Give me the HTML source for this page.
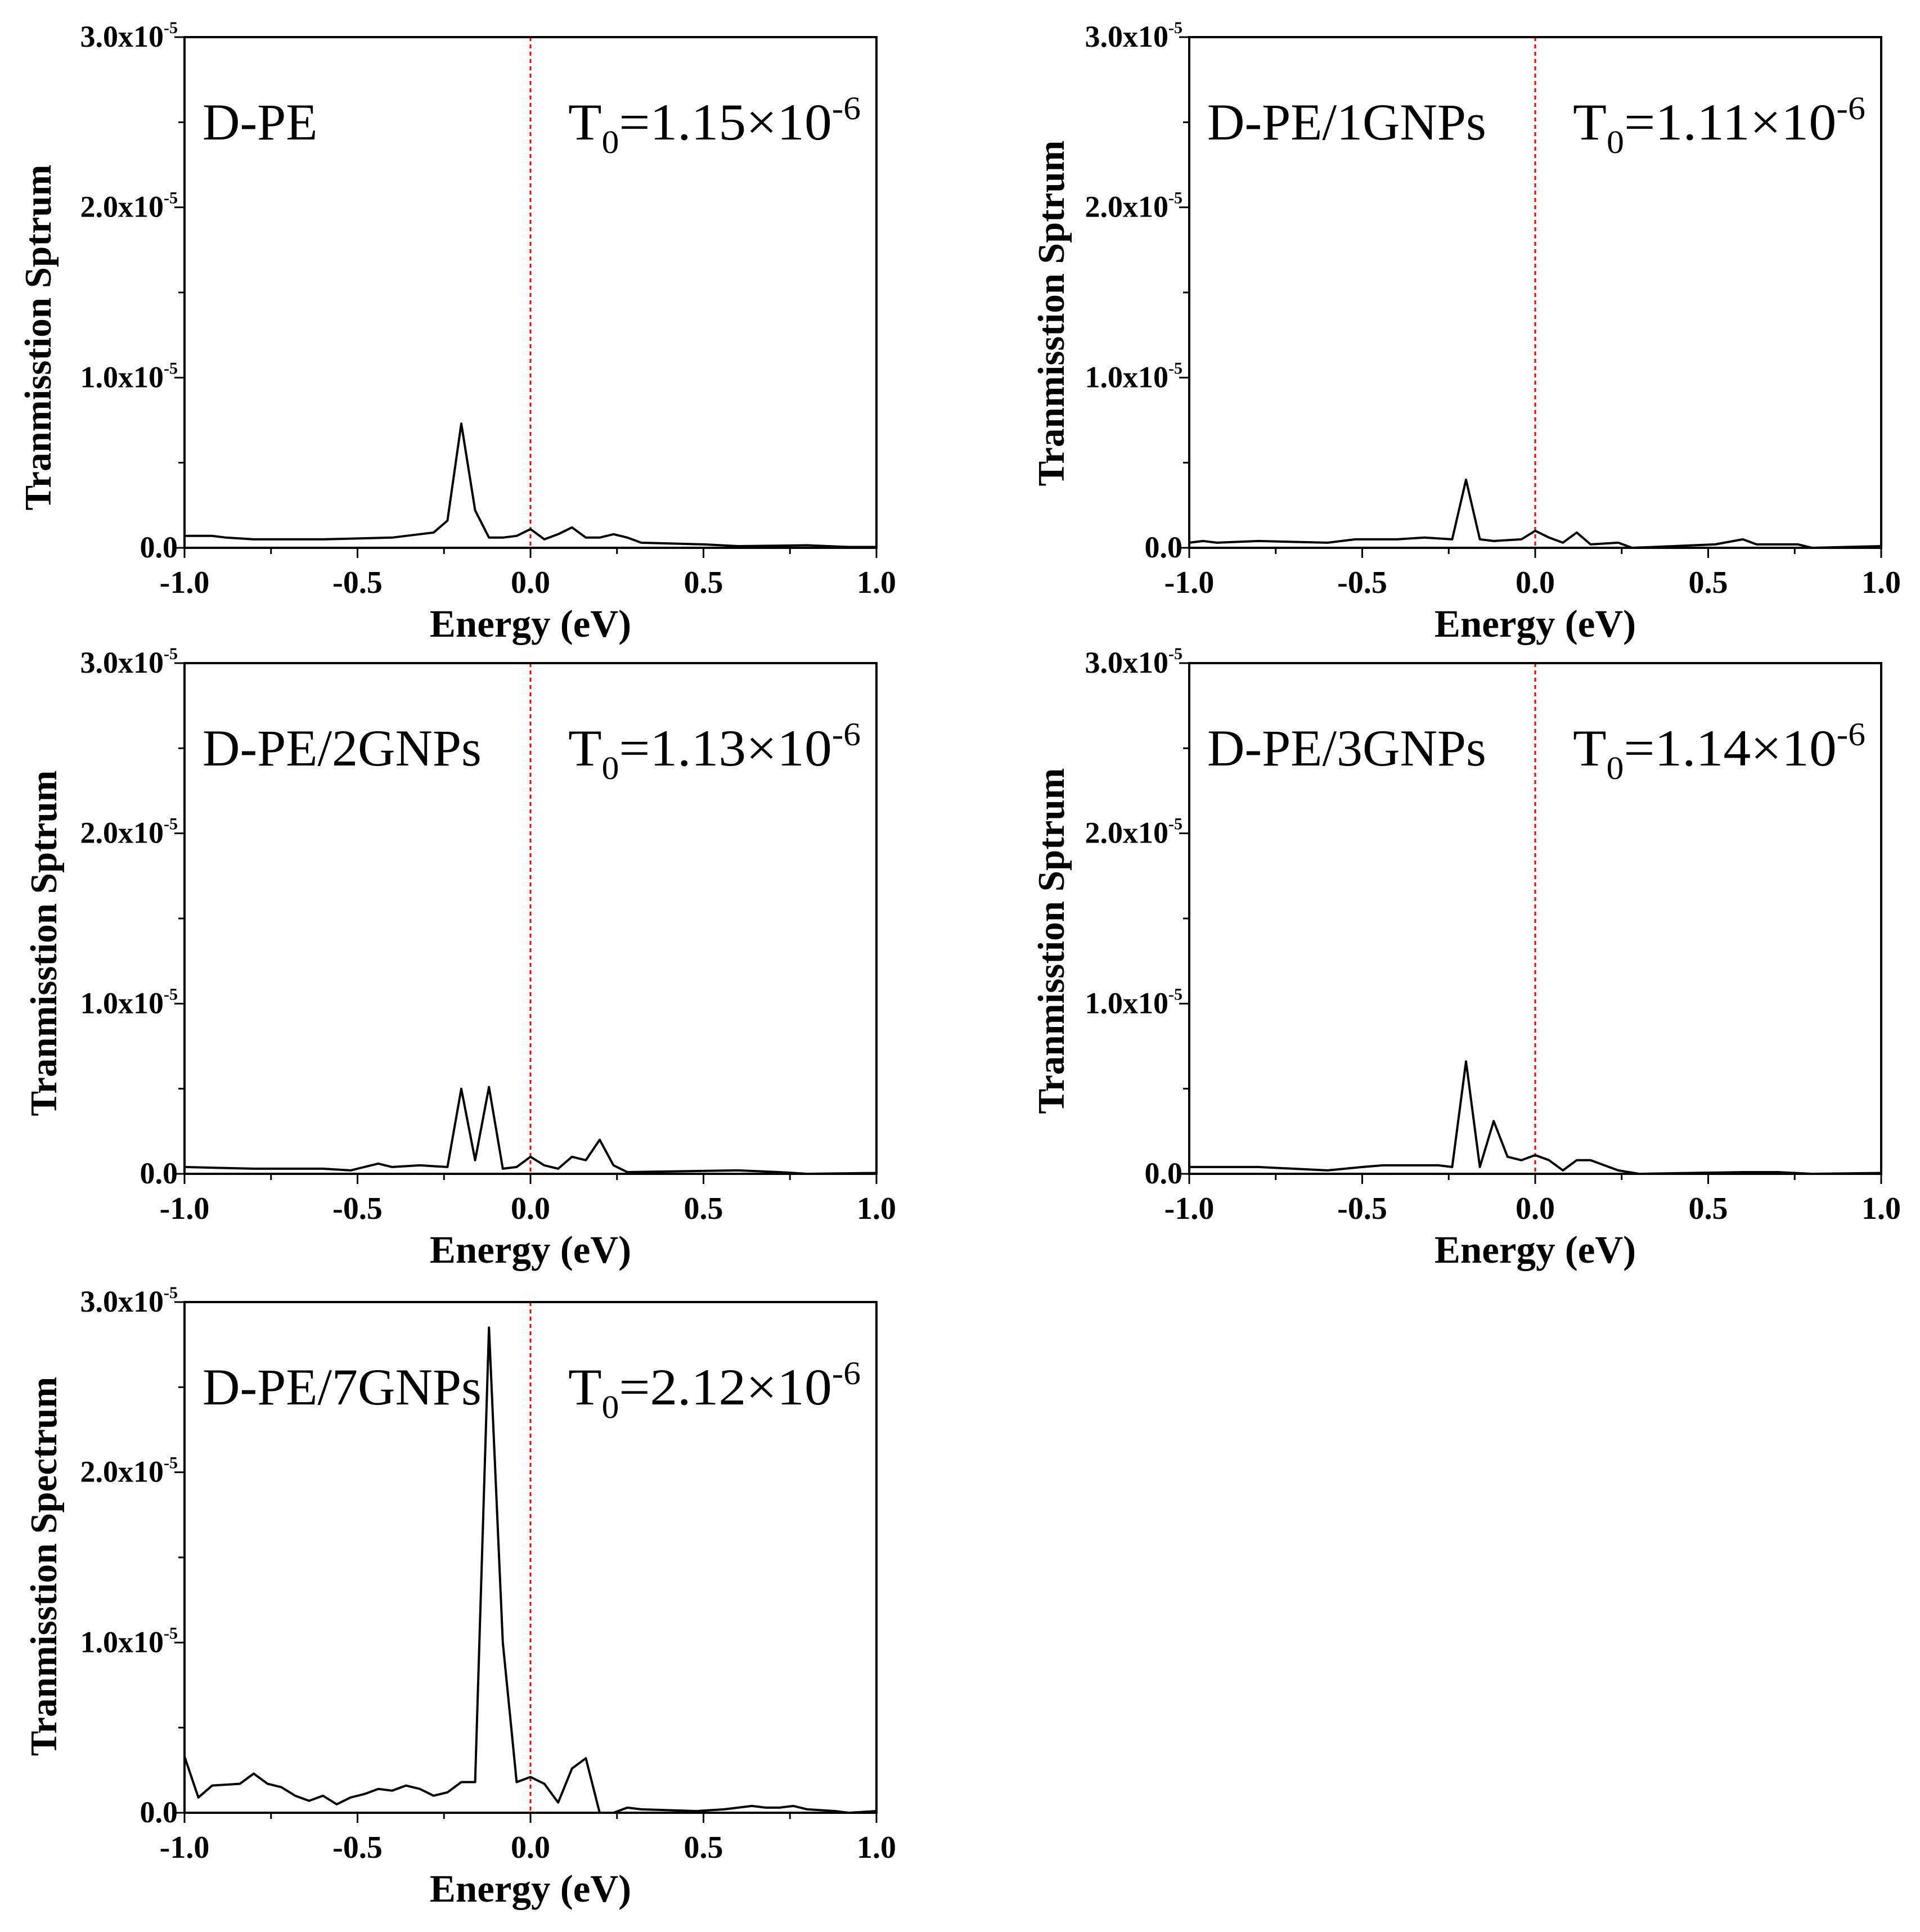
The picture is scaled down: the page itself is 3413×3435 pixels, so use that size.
<!DOCTYPE html>
<html><head><meta charset="utf-8"><style>
html,body{margin:0;padding:0;background:#fff}
svg{display:block}
text{font-family:"Liberation Serif",serif;fill:#000}
</style></head><body>
<svg id="fig" width="3413" height="3435" viewBox="0 0 3413 3435" xmlns="http://www.w3.org/2000/svg"></svg>
<script>
// energies and transmission values (units of 1e-6)
const xDPE=[-1,-0.92,-0.88,-0.8,-0.6,-0.4,-0.32,-0.28,-0.24,-0.2,-0.16,-0.12,-0.08,-0.04,0,0.04,0.08,0.12,0.16,0.2,0.24,0.28,0.32,0.5,0.6,0.8,0.92,1.0];
const yDPE=[0.7,0.7,0.6,0.5,0.5,0.6,0.8,0.9,1.6,7.3,2.2,0.6,0.6,0.7,1.1,0.5,0.8,1.2,0.6,0.6,0.8,0.6,0.3,0.2,0.1,0.15,0.05,0.05];
const x1G=[-1,-0.96,-0.92,-0.8,-0.6,-0.52,-0.4,-0.32,-0.24,-0.2,-0.16,-0.12,-0.04,0,0.04,0.08,0.12,0.16,0.24,0.28,0.4,0.52,0.6,0.64,0.76,0.8,1.0];
const y1G=[0.3,0.4,0.3,0.4,0.3,0.5,0.5,0.6,0.5,4.0,0.5,0.4,0.5,1.0,0.6,0.3,0.9,0.2,0.3,0,0.1,0.2,0.5,0.2,0.2,0,0.1];
const x2G=[-1,-0.8,-0.6,-0.52,-0.44,-0.4,-0.32,-0.24,-0.2,-0.16,-0.12,-0.08,-0.04,0,0.04,0.08,0.12,0.16,0.2,0.24,0.28,0.6,0.72,0.8,1.0];
const y2G=[0.4,0.3,0.3,0.2,0.6,0.4,0.5,0.4,5.0,0.8,5.1,0.3,0.4,1.0,0.5,0.3,1.0,0.8,2.0,0.5,0.1,0.2,0.1,0,0.05];
const x3G=[-1,-0.8,-0.6,-0.5,-0.44,-0.28,-0.24,-0.2,-0.16,-0.12,-0.08,-0.04,0,0.04,0.08,0.12,0.16,0.2,0.24,0.3,0.6,0.7,0.8,1.0];
const y3G=[0.4,0.4,0.2,0.4,0.5,0.5,0.4,6.6,0.4,3.1,1.0,0.8,1.1,0.8,0.2,0.8,0.8,0.5,0.2,0,0.1,0.1,0,0.05];
const x7G=[-1,-0.96,-0.92,-0.84,-0.8,-0.76,-0.72,-0.68,-0.64,-0.6,-0.56,-0.52,-0.48,-0.44,-0.4,-0.36,-0.32,-0.28,-0.24,-0.2,-0.16,-0.12,-0.08,-0.04,0,0.04,0.08,0.12,0.16,0.2,0.24,0.28,0.32,0.48,0.56,0.64,0.68,0.72,0.76,0.8,0.88,0.92,1.0];
const y7G=[3.3,0.9,1.6,1.7,2.3,1.7,1.5,1.0,0.7,1.0,0.5,0.9,1.1,1.4,1.3,1.6,1.4,1.0,1.2,1.8,1.8,28.5,10,1.8,2.1,1.7,0.6,2.6,3.2,0,0,0.3,0.2,0.1,0.2,0.4,0.3,0.3,0.4,0.2,0.1,0,0.1];
const xTicks=[-1.0,-0.5,0.0,0.5,1.0];
const xTickLabels=["-1.0","-0.5","0.0","0.5","1.0"];
const yTicks=[0,10,20,30];
const yTickLabels=["0.0","1.0","2.0","3.0"];
const panelNames=["D-PE","D-PE/1GNPs","D-PE/2GNPs","D-PE/3GNPs","D-PE/7GNPs"];
const t0Values=["1.15","1.11","1.13","1.14","2.12"];
const yTitles=["Tranmisstion Sptrum","Tranmisstion Sptrum","Tranmisstion Sptrum","Tranmisstion Sptrum","Tranmisstion Spectrum"];

const NS="http://www.w3.org/2000/svg";
const svg=document.getElementById('fig');
function mk(tag,attrs,parent,txt){const e=document.createElementNS(NS,tag);for(const k in attrs)e.setAttribute(k,attrs[k]);if(txt!==undefined)e.textContent=txt;parent.appendChild(e);return e;}
const W=1230,H=908;
const panels=[[328,66,xDPE,yDPE],[2114,66,x1G,y1G],[328,1179,x2G,y2G],[2114,1179,x3G,y3G],[328,2315,x7G,y7G]];
const yTitlePos=[[66,600],[1867,557],[76,1677],[1867,1673],[76,2785]];
panels.forEach((p,i)=>{
  const [L,T,xs,ys]=p;
  const sx=v=>L+(v+1)/2*W, sy=v=>T+H-v/30*H;
  const g=mk('g',{},svg);
  
  
  const zl=mk('line',{x1:sx(0),x2:sx(0),y1:T,y2:T+H,stroke:'#e00',"stroke-width":3,"stroke-dasharray":"7 6"},g);
  
  
  const pts=xs.map((x,j)=>sx(x).toFixed(1)+','+sy(ys[j]).toFixed(1)).join(' ');
  const pl=mk('polyline',{points:pts,fill:'none',stroke:'#000',"stroke-width":4,"stroke-linejoin":"round"},g);
  
  
  const fr=mk('rect',{x:L,y:T,width:W,height:H,fill:'none',stroke:'#000',"stroke-width":4},g);
  
  
  for(let v=-1;v<=1.001;v+=0.25){const maj=Math.abs(v*2-Math.round(v*2))<1e-6;
    mk('line',{x1:sx(v),x2:sx(v),y1:T+H,y2:T+H+(maj?18:11),stroke:'#000',"stroke-width":3},g);}
  xTicks.forEach((v,j)=>{const t=mk('text',{x:sx(v),y:T+H+80,"text-anchor":"middle","font-size":56,"font-weight":"bold"},g,xTickLabels[j]);
    
    });
  for(let v=0;v<=30.001;v+=5){const maj=v%10===0;
    mk('line',{x1:L,x2:L-(maj?18:11),y1:sy(v),y2:sy(v),stroke:'#000',"stroke-width":3},g);}
  yTicks.forEach((v,j)=>{const t=mk('text',{x:L-12,y:sy(v)+17,"text-anchor":"end","font-size":54,"font-weight":"bold"},g);
    
    
    if(v===0){t.textContent=yTickLabels[j];}
    else{mk('tspan',{},t,yTickLabels[j]+'x10');mk('tspan',{dy:-24,"font-size":30},t,'-5');}});
  const xt=mk('text',{x:sx(0),y:T+H+158,"text-anchor":"middle","font-size":69,"font-weight":"bold"},g,'Energy (eV)');
  
  
  const [yx,yy]=yTitlePos[i];
  const yt=mk('text',{x:yx+24,y:yy,"text-anchor":"middle","font-size":67,"font-weight":"bold",transform:`rotate(-90 ${yx+24} ${yy})`},g,yTitles[i]);
  
  
  const nm=mk('text',{x:L+32,y:T+182,"font-size":92},g,panelNames[i]);
  
  
  const tt=mk('text',{x:L+682,y:T+182,"font-size":92,textLength:520,lengthAdjust:"spacingAndGlyphs"},g);
  
  
  mk('tspan',{},tt,'T');mk('tspan',{dy:24,"font-size":58},tt,'0');
  mk('tspan',{dy:-24},tt,'='+t0Values[i]+'\u00D710');mk('tspan',{dy:-36,"font-size":58},tt,'-6');
});
</script>
</body></html>
